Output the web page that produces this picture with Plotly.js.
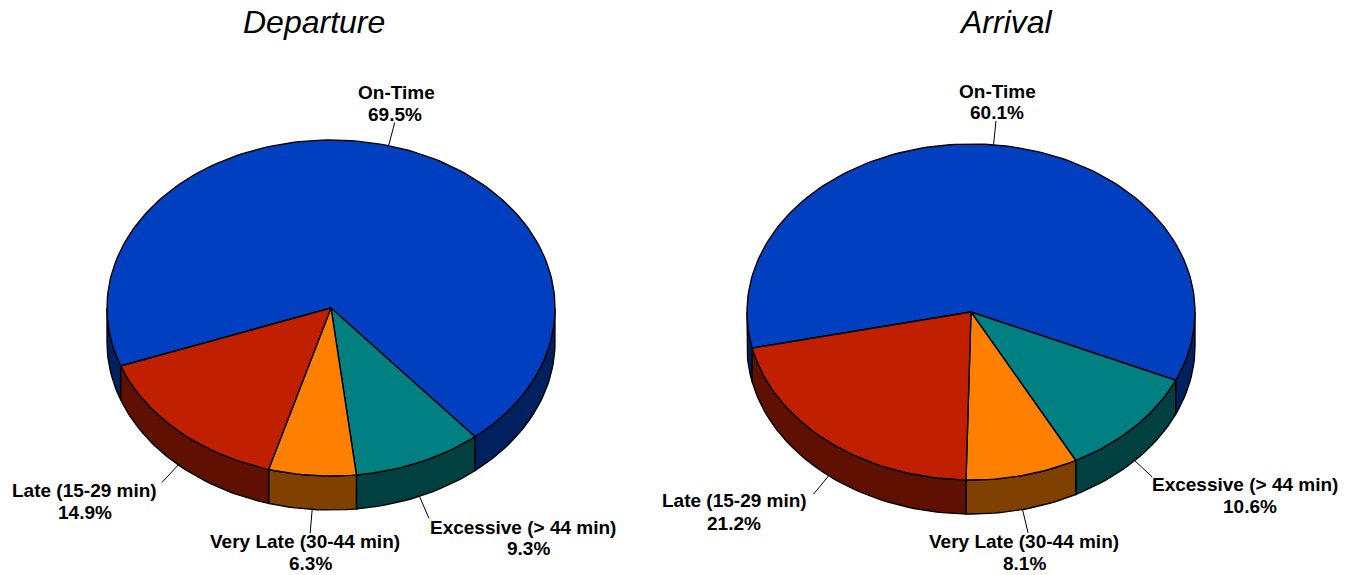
<!DOCTYPE html>
<html><head><meta charset="utf-8">
<script src="https://cdn.plot.ly/plotly-3.0.1.min.js"></script>
<style>html,body{margin:0;padding:0;background:#fff}#c{width:1353px;height:575px}</style>
</head><body><div id="c"></div>
<script>
// Data
const categories = ["On-Time", "Excessive (> 44 min)", "Very Late (30-44 min)", "Late (15-29 min)"];
const departureValues = [69.5, 9.3, 6.3, 14.9];
const arrivalValues = [60.1, 10.6, 8.1, 21.2];
const topColors = ["#0040C0", "#008080", "#FF8000", "#C02000"];
const sideColors = ["#002060", "#004040", "#804000", "#601000"];

// Layout of the two pies (axis units equal pixels)
const W = 1353, H = 575, RX = 224, RY = 168, DEPTH = 34, LEADER = 24;
const pies = [
  {title: "Departure", values: departureValues, cx: 331, cy: 308, start: 249.8, titleX: 314,
   nameAt: [[396,92],[523,527],[305,541],[84,490]], pctAt: [[395,114],[528,548],[310,563],[85,512]]},
  {title: "Arrival", values: arrivalValues, cx: 971, cy: 312, start: 257.6, titleX: 1006,
   nameAt: [[997,91],[1245,484],[1024,541],[734,500]], pctAt: [[997,112],[1250,506],[1024,563],[734,523]]}
];

const rad = d => d * Math.PI / 180;
const px = (p, a) => p.cx + RX * Math.sin(rad(a));
const py = (p, a, dz) => p.cy - RY * Math.cos(rad(a)) + (dz || 0);
function arc(p, a0, a1, dz) {
  const n = Math.max(2, Math.ceil(Math.abs(a1 - a0) / 1.5)), xs = [], ys = [];
  for (let i = 0; i <= n; i++) {
    const a = a0 + (a1 - a0) * i / n;
    xs.push(px(p, a)); ys.push(py(p, a, dz));
  }
  return [xs, ys];
}
const traces = [], annotations = [];
const LABEL_FONT = {family: "Liberation Sans, Arial, sans-serif", size: 19, color: "#000"};
function poly(xs, ys, fill, name, text) {
  traces.push({type: "scatter", mode: "lines", x: xs, y: ys, fill: "toself", fillcolor: fill,
    line: {color: "#000", width: 1.4}, name: name, text: text, hoverinfo: "text", showlegend: false});
}
function label(text, at) {
  annotations.push({text: "<b>" + text + "</b>", x: at[0], y: at[1], xref: "x", yref: "y",
    showarrow: false, xanchor: "center", yanchor: "middle", font: LABEL_FONT});
}
pies.forEach(p => {
  // wedge angles, clockwise from 12 o'clock
  let a = p.start; const wedges = [];
  p.values.forEach((v, i) => { wedges.push({i, a0: a, a1: a + v * 3.6, v}); a += v * 3.6; });
  // side walls: only the parts of the rim on the near half (90..270, modulo 360)
  wedges.forEach(w => {
    [-360, 0, 360].forEach(k => {
      const s = Math.max(w.a0 + k, 90), e = Math.min(w.a1 + k, 270);
      if (e > s) {
        const t = arc(p, s, e, 0), b = arc(p, e, s, DEPTH);
        poly(t[0].concat(b[0], [t[0][0]]), t[1].concat(b[1], [t[1][0]]), sideColors[w.i],
             categories[w.i], categories[w.i] + " " + w.v + "%");
      }
    });
  });
  // top faces
  wedges.forEach(w => {
    const t = arc(p, w.a0, w.a1, 0);
    poly([p.cx].concat(t[0], [p.cx]), [p.cy].concat(t[1], [p.cy]), topColors[w.i],
         categories[w.i], categories[w.i] + " " + w.v + "%");
  });
  // leader lines and labels
  wedges.forEach(w => {
    const m = (w.a0 + w.a1) / 2, s = Math.sin(rad(m)), c = Math.cos(rad(m));
    const dz = c < 0 ? DEPTH : 0;
    traces.push({type: "scatter", mode: "lines", hoverinfo: "skip", showlegend: false,
      x: [px(p, m), px(p, m) + s * LEADER], y: [py(p, m, dz), py(p, m, dz) - c * LEADER],
      line: {color: "#000", width: 1}});
    label(categories[w.i].replace(/>/g, "&gt;"), p.nameAt[w.i]);
    label(w.v.toFixed(1) + "%", p.pctAt[w.i]);
  });
  annotations.push({text: "<i>" + p.title + "</i>", x: p.titleX, y: 22, xref: "x", yref: "y",
    showarrow: false, xanchor: "center", yanchor: "middle",
    font: {family: "Liberation Sans, Arial, sans-serif", size: 32, color: "#000"}});
});
Plotly.newPlot("c", traces, {
  width: W, height: H, margin: {l: 0, r: 0, t: 0, b: 0}, paper_bgcolor: "#fff", plot_bgcolor: "#fff",
  showlegend: false, annotations: annotations,
  xaxis: {range: [0, W], visible: false, fixedrange: true},
  yaxis: {range: [H, 0], visible: false, fixedrange: true}
}, {displayModeBar: false, staticPlot: false});
</script></body></html>
